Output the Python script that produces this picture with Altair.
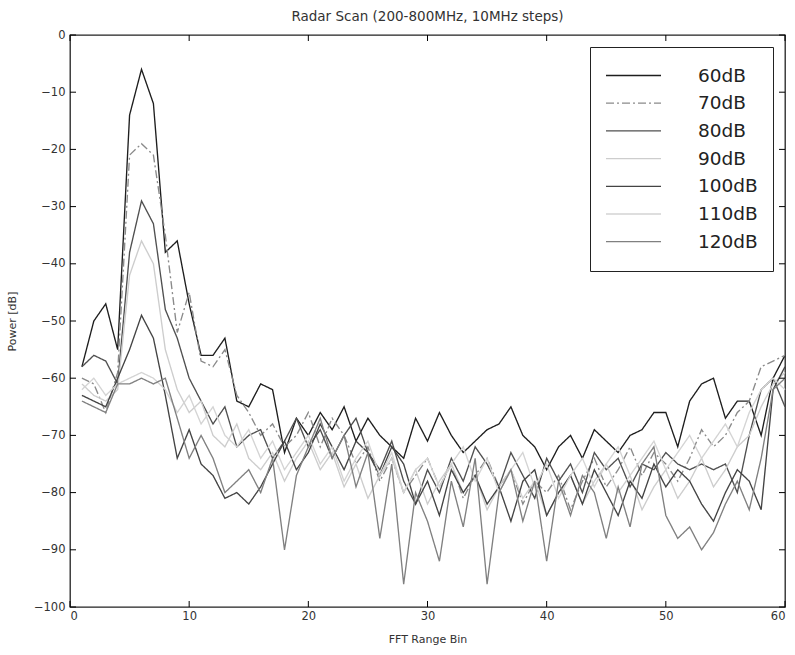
import altair as alt
import pandas as pd

# ---- data ----
bins = list(range(1, 61))
series_names = ["60dB", "70dB", "80dB", "90dB", "100dB", "110dB", "120dB"]

s60 = [-58, -50, -47, -55, -14, -6, -12, -38, -36, -47,
       -56, -56, -53, -64, -65, -61, -62, -73, -67, -70,
       -66, -69, -65, -71, -67, -70, -72, -74, -67, -71,
       -66, -70, -73, -71, -69, -68, -65, -70, -72, -76,
       -72, -70, -74, -69, -71, -73, -70, -69, -66, -66,
       -72, -64, -61, -60, -67, -64, -64, -70, -60, -56]
s70 = [-60, -61, -66, -59, -21, -19, -21, -35, -52, -45,
       -57, -58, -55, -63, -66, -70, -68, -72, -70, -66,
       -72, -67, -70, -75, -72, -78, -74, -80, -77, -74,
       -79, -75, -81, -77, -74, -79, -76, -82, -78, -80,
       -77, -83, -78, -74, -79, -76, -72, -77, -73, -75,
       -78, -74, -69, -72, -70, -66, -64, -58, -57, -56]
s80 = [-58, -56, -57, -61, -38, -29, -33, -48, -53, -60,
       -64, -68, -65, -72, -70, -69, -74, -71, -67, -72,
       -69, -74, -70, -67, -73, -76, -71, -78, -82, -76,
       -80, -74, -78, -72, -75, -79, -73, -77, -81, -74,
       -78, -75, -80, -73, -76, -74, -79, -75, -76, -73,
       -75, -76, -75, -76, -75, -80, -70, -62, -60, -65]
s90 = [-61, -63, -64, -62, -42, -36, -40, -55, -62, -66,
       -64, -70, -72, -68, -74, -76, -73, -78, -74, -71,
       -76, -73, -79, -75, -81, -77, -74, -80, -76, -82,
       -78, -75, -80, -77, -83, -79, -76, -81, -78, -84,
       -80, -77, -82, -78, -75, -80, -77, -83, -79, -76,
       -81, -78, -74, -79, -76, -72, -70, -65, -61, -59]
s100 = [-63, -64, -65, -60, -55, -49, -53, -63, -74, -69,
        -75, -77, -81, -80, -82, -79, -75, -71, -76, -73,
        -68, -72, -76, -71, -73, -77, -72, -75, -82, -78,
        -84, -76, -80, -77, -82, -79, -85, -78, -76, -84,
        -80, -77, -82, -76, -80, -84, -78, -81, -75, -79,
        -76, -78, -82, -85, -80, -76, -78, -83, -62, -58]
s110 = [-62, -60, -63, -61, -60, -59, -60, -62, -66, -63,
        -68, -65, -70, -72, -69, -74, -71, -76, -73, -70,
        -75, -72, -78, -74, -71, -77, -73, -80, -76, -74,
        -79, -75, -72, -78, -74, -80, -76, -73, -79, -75,
        -81, -77, -74, -79, -75, -72, -77, -74, -71, -76,
        -73, -70, -74, -71, -68, -72, -66, -62, -60, -62]
s120 = [-64, -65, -66, -61, -61, -60, -61, -60, -67, -74,
        -70, -74, -80, -78, -76, -80, -74, -90, -77, -72,
        -67, -74, -70, -79, -73, -88, -75, -96, -80, -85,
        -92, -78, -86, -74, -96, -80, -76, -85, -78, -92,
        -78, -84, -77, -80, -88, -79, -86, -75, -72, -84,
        -88, -86, -90, -87, -82, -78, -83, -74, -62, -60]

x_ticks = [0, 10, 20, 30, 40, 50, 60]
y_ticks = [0, -10, -20, -30, -40, -50, -60, -70, -80, -90, -100]

title_text = "Radar Scan (200-800MHz, 10MHz steps)"
x_title = "FFT Range Bin"
y_title = "Power [dB]"

# ---- styling ----
colors = ["#1e1e1e", "#8a8a8a", "#505050", "#cdcdcd", "#444444", "#d4d4d4", "#808080"]
dashes = [[1, 0], [8, 3, 2, 3], [1, 0], [1, 0], [1, 0], [1, 0], [1, 0]]

W, H = 715, 572

rows = []
for order, (name, vals) in enumerate(zip(series_names, [s60, s70, s80, s90, s100, s110, s120])):
    for b, v in zip(bins, vals):
        rows.append({"bin": b, "power": v, "series": name, "order": order})
df = pd.DataFrame(rows)

xscale = alt.Scale(domain=[0, 60], nice=False, zero=False)
yscale = alt.Scale(domain=[-100, 0], nice=False, zero=False)

x_axis = alt.Axis(title=x_title, values=x_ticks, ticks=False, domain=False, grid=False,
                  labelPadding=3, titlePadding=12)
y_axis = alt.Axis(title=y_title, values=y_ticks, ticks=False, domain=False, grid=False,
                  labelPadding=5, titlePadding=16)

lines = alt.Chart(df).mark_line(strokeWidth=1.35).encode(
    x=alt.X("bin:Q", scale=xscale, axis=x_axis),
    y=alt.Y("power:Q", scale=yscale, axis=y_axis),
    color=alt.Color("series:N", scale=alt.Scale(domain=series_names, range=colors),
                    sort=series_names, legend=alt.Legend(title=None)),
    strokeDash=alt.StrokeDash("series:N", scale=alt.Scale(domain=series_names, range=dashes),
                              sort=series_names, legend=alt.Legend(title=None)),
    order=alt.Order("order:Q"),
    detail="series:N",
)

xt = pd.DataFrame({"tick": x_ticks})
yt = pd.DataFrame({"tick": y_ticks})
tl = 6
tick_bottom = alt.Chart(xt).mark_rule(color="black", strokeWidth=1).encode(
    x=alt.X("tick:Q", scale=xscale, axis=x_axis), y=alt.value(H), y2=alt.value(H - tl))
tick_top = alt.Chart(xt).mark_rule(color="black", strokeWidth=1).encode(
    x=alt.X("tick:Q", scale=xscale, axis=x_axis), y=alt.value(0), y2=alt.value(tl))
tick_left = alt.Chart(yt).mark_rule(color="black", strokeWidth=1).encode(
    y=alt.Y("tick:Q", scale=yscale, axis=y_axis), x=alt.value(0), x2=alt.value(tl))
tick_right = alt.Chart(yt).mark_rule(color="black", strokeWidth=1).encode(
    y=alt.Y("tick:Q", scale=yscale, axis=y_axis), x=alt.value(W), x2=alt.value(W - tl))

chart = alt.layer(lines, tick_bottom, tick_top, tick_left, tick_right).properties(
    width=W, height=H,
    title=alt.TitleParams(title_text, fontSize=13.5, font="DejaVu Sans", fontWeight="normal",
                          color="#333333", offset=6, anchor="middle"),
    padding={"left": 70, "top": 35, "right": 10, "bottom": 48},
    autosize="none",
).configure_view(
    stroke="#222222", strokeWidth=1.3
).configure_axis(
    labelFont="DejaVu Sans", labelFontSize=11.5, labelColor="#333333",
    titleFont="DejaVu Sans", titleFontSize=11, titleColor="#333333", titleFontWeight="normal"
).configure_legend(
    orient="none", legendX=520, legendY=12,
    symbolType="stroke", symbolSize=3025, symbolStrokeWidth=1.3,
    clipHeight=27, rowPadding=0.7, labelOffset=36,
    labelFont="DejaVu Sans", labelFontSize=18.5, labelColor="#222222", labelBaseline="middle",
    padding=15, strokeColor="#222222", fillColor="white", cornerRadius=0,
)

chart.save("out.html", embed_options={"renderer": "svg", "actions": False})
